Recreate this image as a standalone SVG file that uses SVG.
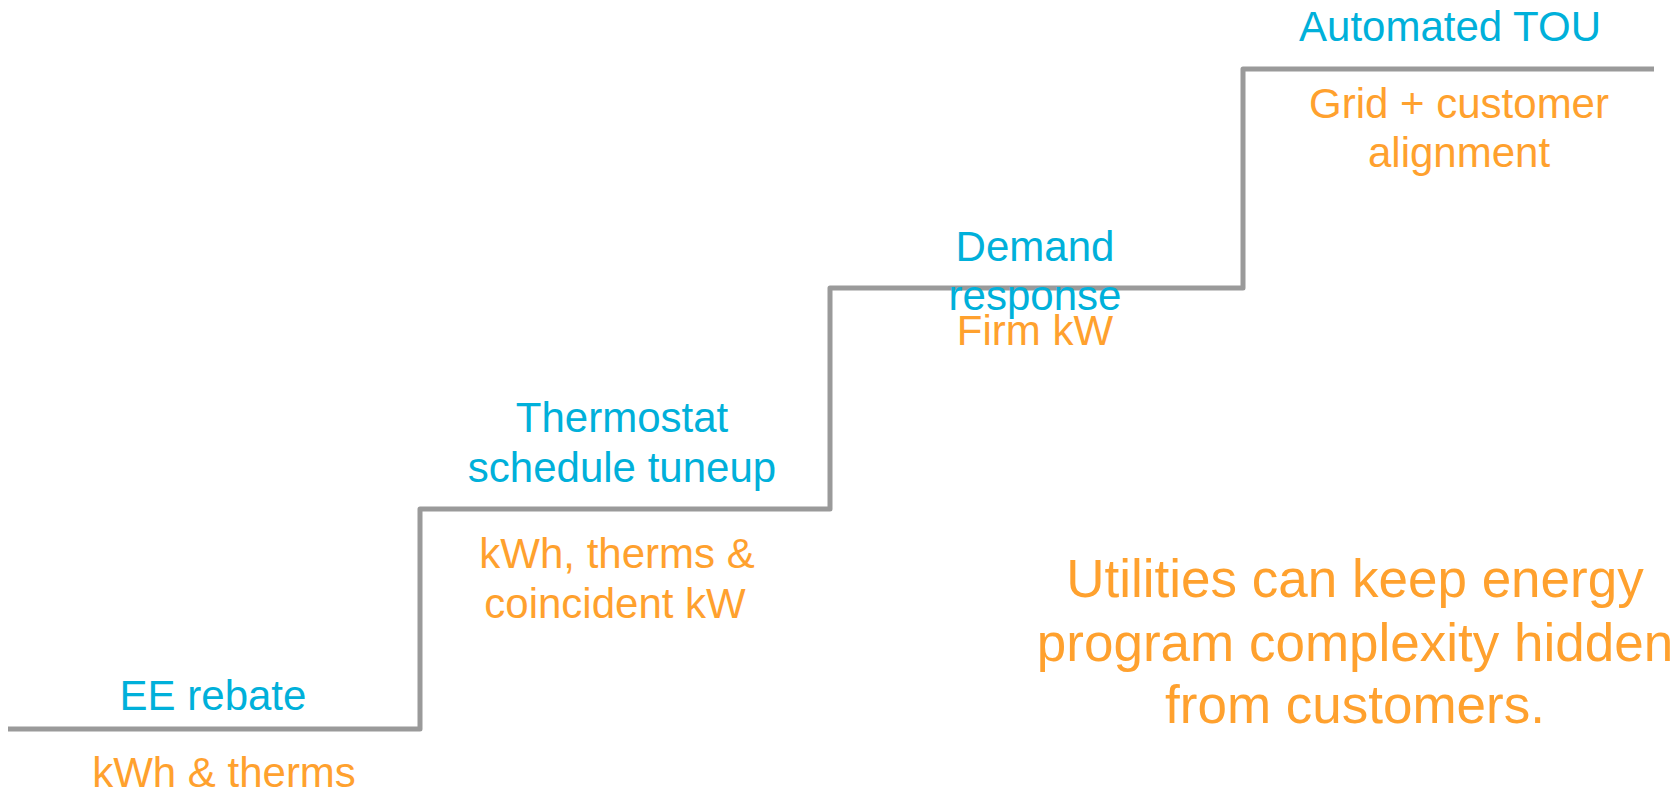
<svg xmlns="http://www.w3.org/2000/svg" width="1680" height="792" viewBox="0 0 1680 792">
  <style>
    .stair { fill: none; stroke: #9a9a9a; stroke-width: 5; stroke-linejoin: round; }
    .title { font-family: "Liberation Sans", Arial, sans-serif; font-size: 42px; fill: #00b0da; text-anchor: middle; }
    .value { font-family: "Liberation Sans", Arial, sans-serif; font-size: 42px; fill: #ffa12e; text-anchor: middle; }
    .note { font-family: "Liberation Sans", Arial, sans-serif; font-size: 53px; fill: #ffa12e; text-anchor: middle; }
  </style>
  <rect width="1680" height="792" fill="#ffffff"/>

  <!-- staircase line -->
  <g id="connectors">
    <path class="stair" d="M8,729 H420 V509 H830 V288 H1243 V69 H1654"/>
  </g>

  <g id="step-ee-rebate">
    <text class="title" x="213" y="710">EE rebate</text>
    <text class="value" x="224" y="787">kWh &amp; therms</text>
  </g>

  <g id="step-thermostat">
    <text class="title" x="622" y="432">Thermostat</text>
    <text class="title" x="622" y="482">schedule tuneup</text>
    <text class="value" x="617" y="568">kWh, therms &amp;</text>
    <text class="value" x="615" y="618">coincident kW</text>
  </g>

  <g id="step-demand-response">
    <text class="title" x="1035" y="261">Demand</text>
    <text class="title" x="1035" y="310">response</text>
    <text class="value" x="1035" y="345">Firm kW</text>
  </g>

  <g id="step-automated-tou">
    <text class="title" x="1450" y="41">Automated TOU</text>
    <text class="value" x="1459" y="118">Grid + customer</text>
    <text class="value" x="1459" y="167">alignment</text>
  </g>

  <g id="summary">
    <text class="note" x="1355" y="597">Utilities can keep energy</text>
    <text class="note" x="1355" y="661">program complexity hidden</text>
    <text class="note" x="1355" y="723">from customers.</text>
  </g>
</svg>
